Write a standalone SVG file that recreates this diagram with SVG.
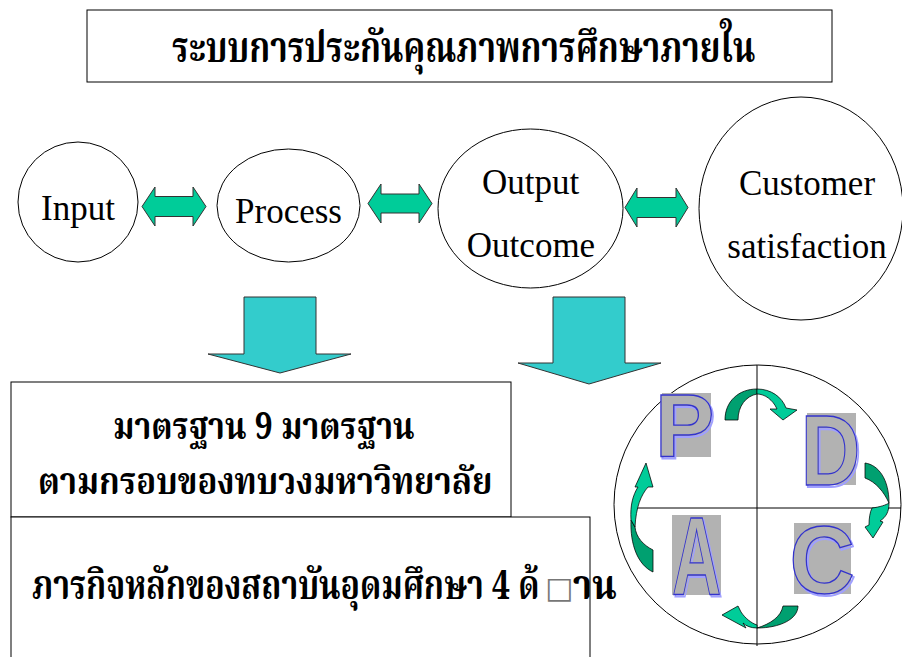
<svg xmlns="http://www.w3.org/2000/svg" width="902" height="657" viewBox="0 0 902 657">
<style>
.node{fill:#fff;stroke:#000;stroke-width:1}
.lbl{font-family:"Liberation Serif","Times New Roman",serif;font-size:35px;fill:#000;text-anchor:middle}
.th{font-family:"Noto Serif Thai","Noto Sans Thai","Tlwg Typo","Garuda","Loma","Liberation Serif",serif;font-weight:bold;fill:#000}
.dbl{fill:#00CC99;stroke:#333;stroke-width:1}
.down{fill:#33CCCC;stroke:#333;stroke-width:1}
.dark{fill:#00A070;stroke:#000;stroke-width:0.75}
.light{fill:#00CC99;stroke:#000;stroke-width:0.75}
.lbox{fill:#B2B2B2}
.letter{font-family:"Liberation Sans",Arial,sans-serif;font-weight:bold;fill:#B2B2B2;stroke:#3333CC;stroke-width:1.3;text-anchor:middle}
.shadow{font-family:"Liberation Sans",Arial,sans-serif;font-weight:bold;fill:none;stroke:#A0A0FF;stroke-width:2;text-anchor:middle}
.axis{stroke:#000;stroke-width:1;fill:none}
</style>
<rect width="902" height="657" fill="#fff"/>

<g id="title">
<rect class="node" x="87" y="10" width="745" height="72"/>
<text class="th" transform="translate(172,62) scale(1,1.29)" x="0" y="0" font-size="33.3">ระบบการประกันคุณภาพการศึกษาภายใน</text>
</g>

<g id="connectors">
<polygon class="dbl" points="142,206.5 155,187 155,196.5 193,196.5 193,187 206,206.5 193,226 193,216.5 155,216.5 155,226"/>
<polygon class="dbl" points="368,203.5 381,184 381,194 419,194 419,184 432,203.5 419,223 419,213 381,213 381,223"/>
<polygon class="dbl" points="625,207.5 637,188 637,197.5 676,197.5 676,188 688,207.5 676,227 676,217.5 637,217.5 637,227"/>
<polygon class="down" points="244,297 316,297 316,354 351,354 280,373 208,354 244,354"/>
<polygon class="down" points="553,297 625,297 625,363 661,363 589,384 518,363 553,363"/>
</g>

<g id="input">
<ellipse class="node" cx="78" cy="202" rx="60" ry="60"/>
<text class="lbl" x="78" y="220">Input</text>
</g>

<g id="process">
<ellipse class="node" cx="288.5" cy="205.5" rx="71.5" ry="56.5"/>
<text class="lbl" x="288.5" y="223">Process</text>
</g>

<g id="output">
<ellipse class="node" cx="530.5" cy="208.5" rx="92.5" ry="79.5"/>
<text class="lbl" x="530.5" y="194">Output</text>
<text class="lbl" x="531" y="257">Outcome</text>
</g>

<g id="customer">
<ellipse class="node" cx="801" cy="208.5" rx="102" ry="111.5"/>
<text class="lbl" x="807" y="195">Customer</text>
<text class="lbl" x="807" y="258">satisfaction</text>
</g>

<g id="standards">
<rect class="node" x="11" y="382" width="500" height="135"/>
<text class="th" transform="translate(113,439) scale(1,1.18)" x="0" y="0" font-size="32.1">มาตรฐาน 9 มาตรฐาน</text>
<text class="th" transform="translate(38,494) scale(1,1.15)" x="0" y="0" font-size="32.9">ตามกรอบของทบวงมหาวิทยาลัย</text>
</g>

<g id="missions">
<rect class="node" x="11" y="517" width="579" height="160"/>
<text class="th" transform="translate(32,599) scale(1,1.25)" x="0" y="0" font-size="32">ภารกิจหลักของสถาบันอุดมศึกษา 4 ด้</text>
<text x="545" y="598" font-family="DejaVu Sans,sans-serif" font-size="30" fill="#777">□</text>
<text class="th" transform="translate(573,599) scale(1,1.1)" x="0" y="0" font-size="36.6">าน</text>
</g>

<g id="pdca">
<ellipse class="node" cx="757.5" cy="504.5" rx="143.5" ry="139.5"/>
<line class="axis" x1="757" y1="365" x2="757" y2="646"/>
<line class="axis" x1="635" y1="508" x2="901" y2="508"/>
<rect class="lbox" x="662" y="393" width="49" height="64"/>
<rect class="lbox" x="807" y="413" width="49" height="72"/>
<rect class="lbox" x="672" y="515" width="49" height="80"/>
<rect class="lbox" x="794" y="523" width="57" height="71"/>
<text class="shadow" transform="translate(686.3,458.5)" font-size="89">P</text>
<text class="letter" transform="translate(684.8,457)" font-size="89">P</text>
<text class="shadow" transform="translate(832.1,486.5) scale(0.82,1)" font-size="100.6">D</text>
<text class="letter" transform="translate(830.6,485) scale(0.82,1)" font-size="100.6">D</text>
<text class="shadow" transform="translate(698,596.5) scale(0.61,1)" font-size="111.7">A</text>
<text class="letter" transform="translate(696.5,595) scale(0.61,1)" font-size="111.7">A</text>
<text class="shadow" transform="translate(823.5,594.5) scale(0.94,1)" font-size="96">C</text>
<text class="letter" transform="translate(822,593) scale(0.94,1)" font-size="96">C</text>
<path class="dark" d="M725,420 C725,401 739,389 757,389 L757,394 C746,396 738,406 738,420 Z"/>
<path class="light" d="M757,389 C771,389 782,397 786,408 L797,410 L783,420 L770,409 L777,409 C773,400 765,394 757,394 Z"/>
<path class="dark" d="M865,463 C879,465 889,480 889,503 C884,492 876,482 865,478 Z"/>
<path class="light" d="M889,503 C889,512 886,517 880,521 L883,522 L873,538 L865,527 L869,525 C869,518 870,512 872,508 C880,507 886,505 889,503 Z"/>
<path class="dark" d="M798,606 C798,619 780,628 757,628 C770,624 781,617 783,606 Z"/>
<path class="light" d="M757,628 C751,628 746,626 743,623 L746,628 L722,615 L738,606 L741,612 C745,618 751,623 757,625 Z"/>
<path class="dark" d="M631,520 C630,545 638,565 653,572 L653,550 C643,545 636,537 635,527 Z"/>
<path class="light" d="M631,520 C630,505 633,495 638,487 L635,487 L646,463 L653,487 L648,487 C641,495 636,507 635,527 Z"/>
</g>
</svg>
